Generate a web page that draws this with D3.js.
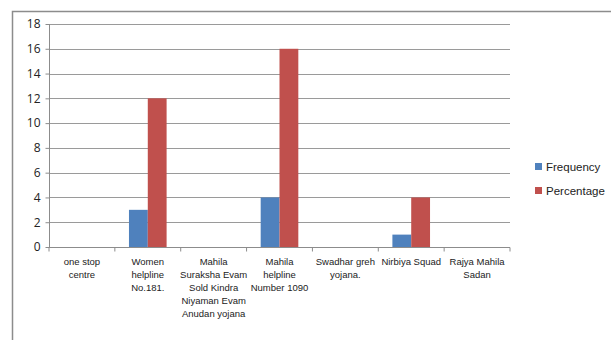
<!DOCTYPE html>
<html><head><meta charset="utf-8">
<script src="https://cdn.jsdelivr.net/npm/d3@7"></script>
<style>body{margin:0;background:#fff}svg{display:block}text{font-family:"Liberation Sans",Arial,sans-serif;fill:#222}</style>
</head><body>
<svg id="c" width="611" height="340"></svg>
<script>
const categories = [
  ["one stop","centre"],
  ["Women","helpline","No.181."],
  ["Mahila","Suraksha Evam","Sold Kindra","Niyaman Evam","Anudan yojana"],
  ["Mahila","helpline","Number 1090"],
  ["Swadhar greh","yojana."],
  ["Nirbiya Squad"],
  ["Rajya Mahila","Sadan"]
];
const frequency = [0, 3, 0, 4, 0, 1, 0];
const percentage = [0, 12, 0, 16, 0, 4, 0];
const seriesNames = ["Frequency", "Percentage"];
const colors = ["#4F81BD", "#C0504D"];
const yTicks = [0, 2, 4, 6, 8, 10, 12, 14, 16, 18];

(function(){
const svg = d3.select("#c");
svg.append("rect").attr("x",12.5).attr("y",11.5).attr("width",640).attr("height",360)
  .attr("fill","none").attr("stroke","#8c8c8c").attr("stroke-width",1.5);

const pL = 49, pR = 510, pT = 24, pB = 247;
const idx = d3.range(categories.length);
const x = d3.scaleBand().domain(idx).range([pL, pR]).paddingInner(0).paddingOuter(0);
const y = d3.scaleLinear().domain([0, 18]).range([pB, pT]);
const bw = x.bandwidth();
const barW = bw / 3.5;
const xs = d3.scaleBand().domain([0,1]).range([0, barW*2]);

svg.append("g").selectAll("line").data(yTicks.filter(d=>d>0)).join("line")
  .attr("x1", pL).attr("x2", pR)
  .attr("y1", d=>Math.round(y(d))+0.5).attr("y2", d=>Math.round(y(d))+0.5)
  .attr("stroke","#9a9a9a").attr("stroke-width",1.2);

const ya = svg.append("g").attr("transform",`translate(${pL+0.5},0)`)
  .call(d3.axisLeft(y).tickValues(yTicks).tickSize(4).tickPadding(5).tickFormat(d3.format("d")));
ya.select(".domain").attr("stroke","#8c8c8c").attr("d",`M0,${pT}V${pB}`);
ya.selectAll(".tick line").attr("stroke","#8c8c8c");
ya.selectAll(".tick text").attr("font-size",12).attr("fill","#333").style("font-family","'Open Sans',sans-serif");

const series = [frequency, percentage];
series.forEach((vals, s) => {
  svg.append("g").selectAll("rect").data(vals).join("rect")
    .attr("x", (d,i)=> x(i) + (bw - 2*barW)/2 + xs(s))
    .attr("width", barW)
    .attr("y", d=> y(d))
    .attr("height", d=> pB - y(d))
    .attr("fill", colors[s]);
});

const xa = svg.append("g").attr("transform",`translate(0,${pB+0.5})`);
xa.append("line").attr("x1",pL).attr("x2",pR).attr("stroke","#8c8c8c").attr("stroke-width",1.2);
xa.selectAll(".tk").data(d3.range(categories.length+1)).join("line")
  .attr("x1", i=> pL + i*bw).attr("x2", i=> pL + i*bw)
  .attr("y1",0).attr("y2",4).attr("stroke","#8c8c8c");
const lbl = svg.append("g");
categories.forEach((lines, i) => {
  const t = lbl.append("text").attr("text-anchor","middle")
    .attr("font-size",9.5).attr("fill","#222");
  lines.forEach((ln, k) => {
    t.append("tspan").attr("x", x(i)+bw/2).attr("y", 265 + k*13).text(ln);
  });
});

const lg = svg.append("g");
seriesNames.forEach((n, s) => {
  const yy = 167 + s*24;
  lg.append("rect").attr("x",535).attr("y",yy-4).attr("width",7).attr("height",7).attr("fill",colors[s]);
  lg.append("text").attr("x",546).attr("y",yy+4).attr("font-size",11.5).attr("fill","#222").text(n);
});
})();
</script>
</body></html>
